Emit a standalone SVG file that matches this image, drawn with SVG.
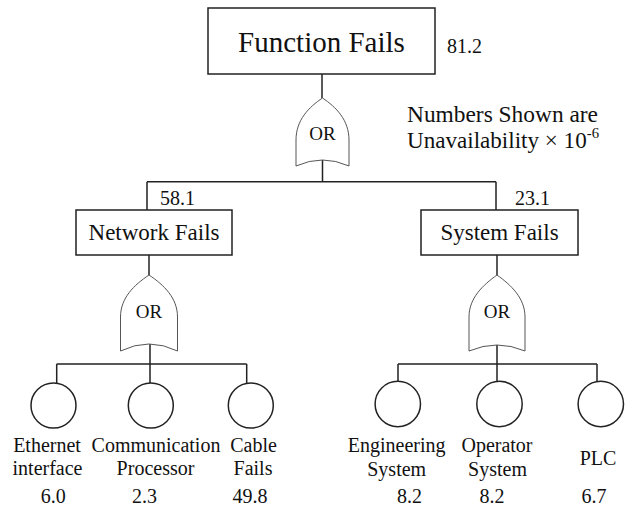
<svg xmlns="http://www.w3.org/2000/svg" width="628" height="507" viewBox="0 0 628 507">
  <style>
    .box { fill: #fff; stroke: #222; stroke-width: 1.5; }
    .gate { fill: #fff; stroke: #555; stroke-width: 1; }
    .leaf { fill: #fff; stroke: #222; stroke-width: 1.5; }
    .wire { fill: none; stroke: #222; stroke-width: 1.5; }
    .t { font-family: "Liberation Serif", "DejaVu Serif", serif; fill: #111; }
    .title { font-size: 29px; text-anchor: middle; }
    .mid { font-size: 23px; text-anchor: middle; }
    .gl { font-size: 19px; text-anchor: middle; }
    .lbl { font-size: 20px; text-anchor: middle; }
    .num { font-size: 20px; }
    .note { font-size: 23.5px; }
  </style>

  <!-- connectors -->
  <g id="connectors">
    <path class="wire" d="M322 74 V98"/>
    <path class="wire" d="M322.5 160 V181.7 M147 181.7 H496 M147 181.7 V210 M496 181.7 V210"/>
    <path class="wire" d="M149 255 V275"/>
    <path class="wire" d="M150 344 V364 M56.7 364 H246.7 M56.7 364 V389 M150 364 V383 M246.7 364 V383"/>
    <path class="wire" d="M497 255 V275"/>
    <path class="wire" d="M497 345 V364 M398 364 H597 M398 364 V381 M497 364 V381 M597 364 V381"/>
  </g>

  <!-- top event -->
  <g id="function-fails">
    <rect class="box" x="208" y="8" width="227" height="66"/>
    <text class="t title" x="321.5" y="52">Function Fails</text>
    <text class="t num" x="447" y="53">81.2</text>
  </g>

  <g id="or-top">
    <path class="gate" d="M322.5 98 C336 107 349 120 349 140 L349 166 Q322.5 154 296 166 L296 140 C296 120 309 107 322.5 98 Z"/>
    <text class="t gl" x="322.5" y="140">OR</text>
  </g>

  <g id="note">
    <text class="t note" x="407" y="122" textLength="191" lengthAdjust="spacingAndGlyphs">Numbers Shown are</text>
    <text class="t note" x="407" y="148" textLength="192" lengthAdjust="spacingAndGlyphs">Unavailability × 10<tspan font-size="15" dy="-10">-6</tspan></text>
  </g>

  <!-- intermediate events -->
  <g id="network-fails">
    <rect class="box" x="76" y="210" width="156" height="45"/>
    <text class="t mid" x="154" y="240">Network Fails</text>
    <text class="t num" x="160" y="205">58.1</text>
  </g>

  <g id="system-fails">
    <rect class="box" x="421" y="210" width="157" height="45"/>
    <text class="t mid" x="499.5" y="240">System Fails</text>
    <text class="t num" x="515" y="205">23.1</text>
  </g>

  <g id="or-network">
    <path class="gate" d="M149 275 C164 285 177.5 298 177.5 317 L177.5 351 Q149 337 120.5 351 L120.5 317 C120.5 298 134 285 149 275 Z"/>
    <text class="t gl" x="149" y="318">OR</text>
  </g>

  <g id="or-system">
    <path class="gate" d="M497 275 C511 285 525 298 525 317 L525 351 Q497 339 469 351 L469 317 C469 298 483 285 497 275 Z"/>
    <text class="t gl" x="497" y="318">OR</text>
  </g>

  <!-- basic events -->
  <g id="ethernet-interface">
    <circle class="leaf" cx="53.5" cy="405.5" r="22.5"/>
    <text class="t lbl" x="47" y="452">Ethernet</text>
    <text class="t lbl" x="47.5" y="475">interface</text>
    <text class="t lbl" x="53.3" y="503">6.0</text>
  </g>

  <g id="communication-processor">
    <circle class="leaf" cx="150.8" cy="405.5" r="22.5"/>
    <text class="t lbl" x="156" y="452">Communication</text>
    <text class="t lbl" x="155.5" y="475">Processor</text>
    <text class="t lbl" x="144.5" y="503">2.3</text>
  </g>

  <g id="cable-fails">
    <circle class="leaf" cx="250.8" cy="405.5" r="22.5"/>
    <text class="t lbl" x="253.5" y="452">Cable</text>
    <text class="t lbl" x="253" y="475">Fails</text>
    <text class="t lbl" x="250" y="503">49.8</text>
  </g>

  <g id="engineering-system">
    <circle class="leaf" cx="397.8" cy="404" r="22.7"/>
    <text class="t lbl" x="396.7" y="452">Engineering</text>
    <text class="t lbl" x="396.7" y="476">System</text>
    <text class="t lbl" x="409.5" y="503">8.2</text>
  </g>

  <g id="operator-system">
    <circle class="leaf" cx="499.5" cy="404" r="22.7"/>
    <text class="t lbl" x="497" y="452">Operator</text>
    <text class="t lbl" x="497.5" y="476">System</text>
    <text class="t lbl" x="492" y="503">8.2</text>
  </g>

  <g id="plc">
    <circle class="leaf" cx="600.8" cy="404" r="22.7"/>
    <text class="t lbl" x="598" y="465">PLC</text>
    <text class="t lbl" x="594" y="503">6.7</text>
  </g>
</svg>
